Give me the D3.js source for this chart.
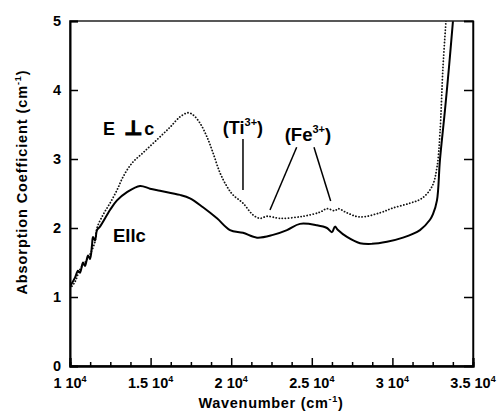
<!DOCTYPE html>
<html>
<head>
<meta charset="utf-8">
<script src="https://cdn.jsdelivr.net/npm/d3@7"></script>
<style>
  body { margin: 0; background: #fff; }
  text { font-family: "Liberation Sans", Arial, sans-serif; font-weight: bold; fill: #000; }
</style>
</head>
<body>
<div id="chart"></div>
<script>
// E || c (solid)
var paraWave = [10000, 10310, 10496, 10620, 10806, 10930, 11117, 11241, 11365, 11427, 11551, 11675, 11861,
  12481, 12915, 13536, 14342, 14962, 15583, 16823, 17444, 18250, 19118, 19925, 20731, 21600, 22592,
  23460, 24267, 25321, 25942, 26252, 26438, 26624, 27182, 27989, 28733, 29664, 30656, 31711, 32331,
  32517, 32765, 32951, 33262, 33510, 33758];
var paraAbs = [1.15, 1.28, 1.38, 1.35, 1.5, 1.45, 1.6, 1.55, 1.75, 1.87, 1.82, 1.97, 2.02,
  2.26, 2.4, 2.52, 2.61, 2.57, 2.54, 2.48, 2.43, 2.3, 2.14, 1.97, 1.93, 1.86, 1.9,
  1.97, 2.06, 2.04, 2.0, 1.94, 2.02, 1.97, 1.87, 1.78, 1.77, 1.8, 1.86, 1.97, 2.12,
  2.2, 2.4, 2.99, 3.71, 4.33, 5.0];

// E perp c (dotted)
var perpWave = [10000, 10310, 10620, 10930, 11241, 11551, 11675, 12047, 12481, 12915, 13288, 13846, 14528,
  15397, 16203, 16823, 17320, 17630, 18064, 18498, 18870, 19305, 19739, 20111, 20731, 21352, 21786,
  22220, 23026, 24453, 25508, 25942, 26438, 26624, 27182, 27989, 29229, 30036, 31090, 31835, 32455,
  32765, 32951, 33137, 33323];
var perpAbs = [1.12, 1.22, 1.4, 1.5, 1.62, 1.8, 2.0, 2.19, 2.36, 2.55, 2.74, 2.94, 3.09,
  3.28, 3.46, 3.61, 3.67, 3.64, 3.52, 3.32, 3.09, 2.8, 2.6, 2.48, 2.36, 2.19, 2.14,
  2.17, 2.14, 2.17, 2.23, 2.28, 2.25, 2.28, 2.22, 2.16, 2.22, 2.29, 2.36, 2.43, 2.6,
  2.88, 3.38, 4.33, 5.0];

var xMajor = [10000, 15000, 20000, 25000, 30000, 35000];
var xMajorLabels = ["1", "1.5", "2", "2.5", "3", "3.5"];
var xMinor = [11250, 12500, 13750, 16250, 17500, 18750, 21250, 22500, 23750, 26250, 27500, 28750, 31250, 32500, 33750];
var yTicks = [0, 1, 2, 3, 4, 5];

var width = 497, height = 412;
var margin = {left: 70, right: 24, top: 21, bottom: 46};

var svg = d3.select("#chart").append("svg")
    .attr("width", width)
    .attr("height", height);

var x = d3.scaleLinear().domain([10000, 35000]).range([margin.left, width - margin.right]);
var y = d3.scaleLinear().domain([0, 5]).range([height - margin.bottom, margin.top]);

svg.append("clipPath").attr("id", "plot")
  .append("rect")
    .attr("x", x(10000)).attr("y", y(5))
    .attr("width", x(35000) - x(10000)).attr("height", y(0) - y(5));

var line = d3.line()
    .x(function(d){ return x(d[0]); })
    .y(function(d){ return y(d[1]); })
    .curve(d3.curveCatmullRom.alpha(0.5));

var paraData = d3.zip(paraWave, paraAbs);
var perpData = d3.zip(perpWave, perpAbs);

svg.append("path")
    .attr("clip-path", "url(#plot)")
    .attr("d", line(perpData))
    .attr("fill", "none")
    .attr("stroke", "#111")
    .attr("stroke-width", 1.8)
    .attr("stroke-linecap", "round")
    .attr("stroke-dasharray", "0.1,3");

svg.append("path")
    .attr("clip-path", "url(#plot)")
    .attr("d", line(paraData))
    .attr("fill", "none")
    .attr("stroke", "#000")
    .attr("stroke-width", 2);

// frame
svg.append("rect")
    .attr("x", x(10000)).attr("y", y(5))
    .attr("width", x(35000) - x(10000)).attr("height", y(0) - y(5))
    .attr("fill", "none").attr("stroke", "#222").attr("stroke-width", 1.5);

// axes, ticks pointing inward
var bottom = svg.append("g").attr("transform", "translate(0," + y(0) + ")");
bottom.call(d3.axisBottom(x).tickValues(xMajor).tickSize(-8).tickFormat(""));
bottom.append("g").call(d3.axisBottom(x).tickValues(xMinor).tickSize(-4).tickFormat(""));
bottom.selectAll(".domain").attr("stroke-width", 2);
bottom.selectAll(".tick line").attr("stroke-width", 1.5);

var left = svg.append("g").attr("transform", "translate(" + x(10000) + ",0)");
left.call(d3.axisLeft(y).tickValues(yTicks).tickSize(-8).tickFormat(""));
left.selectAll(".domain").attr("stroke-width", 2);
left.selectAll(".tick line").attr("stroke-width", 1.5);

var right = svg.append("g").attr("transform", "translate(" + x(35000) + ",0)");
right.call(d3.axisRight(y).tickValues(yTicks).tickSize(-9).tickFormat(""));
right.selectAll(".domain").attr("stroke-width", 1.5);
right.selectAll(".tick line").attr("stroke-width", 1.5);

// tick labels
var xl = svg.selectAll("text.xl")
    .data(xMajor)
    .enter()
    .append("text")
    .attr("class", "xl")
    .attr("x", function(d){ return x(d); })
    .attr("y", y(0) + 22)
    .attr("text-anchor", "middle")
    .attr("font-size", 14.5);
xl.append("tspan").text(function(d, i){ return xMajorLabels[i] + " 10"; });
xl.append("tspan").attr("font-size", 9).attr("dy", -6).text("4");

svg.selectAll("text.yl")
    .data(yTicks)
    .enter()
    .append("text")
    .attr("class", "yl")
    .attr("x", x(10000) - 9)
    .attr("y", function(d){ return y(d) + 5; })
    .attr("text-anchor", "end")
    .attr("font-size", 14.5)
    .text(function(d){ return d; });

// axis titles
var xt = svg.append("text")
    .attr("x", 271).attr("y", 408)
    .attr("text-anchor", "middle")
    .attr("letter-spacing", 0.7)
    .attr("font-size", 14.5);
xt.append("tspan").text("Wavenumber (cm");
xt.append("tspan").attr("font-size", 9).attr("dy", -6).text("-1");
xt.append("tspan").attr("dy", 6).text(")");

var yt = svg.append("text")
    .attr("transform", "translate(27,182) rotate(-90)")
    .attr("text-anchor", "middle")
    .attr("letter-spacing", 0.9)
    .attr("font-size", 14.5);
yt.append("tspan").text("Absorption Coefficient (cm");
yt.append("tspan").attr("font-size", 9).attr("dy", -6).text("-1");
yt.append("tspan").attr("dy", 6).text(")");

// annotations
var perpLabel = svg.append("text")
    .attr("x", x(12047)).attr("y", y(3.35))
    .attr("font-size", 18);
perpLabel.append("tspan").text("E");
perpLabel.append("tspan").attr("dx", 9).attr("font-family", "DejaVu Sans")
    .attr("font-size", 20).attr("stroke", "#000").attr("stroke-width", 1.2).text("\u22A5");
perpLabel.append("tspan").attr("dx", 2).text("c");

svg.append("text")
    .attr("x", x(12667)).attr("y", y(1.8))
    .attr("font-size", 18.5)
    .text("Ellc");

var ti = svg.append("text")
    .attr("x", x(20731)).attr("y", y(3.36))
    .attr("text-anchor", "middle")
    .attr("font-size", 18);
ti.append("tspan").text("(Ti");
ti.append("tspan").attr("font-size", 11).attr("dy", -8).text("3+");
ti.append("tspan").attr("dy", 8).text(")");

var fe = svg.append("text")
    .attr("x", x(24760)).attr("y", y(3.26))
    .attr("text-anchor", "middle")
    .attr("font-size", 18.5);
fe.append("tspan").text("(Fe");
fe.append("tspan").attr("font-size", 11).attr("dy", -8).text("3+");
fe.append("tspan").attr("dy", 8).text(")");

var leaders = [
  [[20731, 3.29], [20731, 2.55]],
  [[24062, 3.17], [22406, 2.26]],
  [[25135, 3.17], [26171, 2.39]]
];
svg.selectAll("line.leader")
    .data(leaders)
    .enter()
    .append("line")
    .attr("class", "leader")
    .attr("x1", function(d){ return x(d[0][0]); })
    .attr("y1", function(d){ return y(d[0][1]); })
    .attr("x2", function(d){ return x(d[1][0]); })
    .attr("y2", function(d){ return y(d[1][1]); })
    .attr("stroke", "#000")
    .attr("stroke-width", 1.5);
</script>
</body>
</html>
